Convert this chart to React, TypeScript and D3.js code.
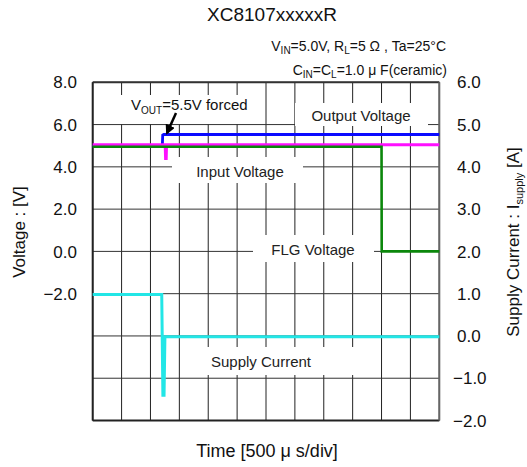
import React from "react";
import * as d3 from "d3";

// time in microseconds, values in V (voltages) or A (current)
const outputVoltage: [number, number][] = [
  [0, 4.98], [1205, 4.98], [1212, 5.5], [1230, 5.53], [6000, 5.53],
];
const inputVoltage: [number, number][] = [
  [0, 5.04], [1255, 5.04], [1262, 4.4], [1272, 4.4], [1278, 5.04], [6000, 5.04],
];
const flgVoltage: [number, number][] = [
  [0, 4.95], [5000, 4.95], [5003, 0.0], [6000, 0.0],
];
const supplyCurrent: [number, number][] = [
  [0, 0.98], [1195, 0.98], [1215, -1.4], [1235, -1.4], [1250, -0.02], [6000, -0.02],
];

const timeGrid = d3.range(0, 6001, 500);
const voltGrid = d3.range(-8, 9, 2);
const leftTickLabels = [8, 6, 4, 2, 0, -2];
const rightTickLabels = [6, 5, 4, 3, 2, 1, 0, -1, -2];

const FONT = "'Liberation Sans', Arial, sans-serif";

export default function App() {
  const L = 92.7, R = 439.3, T = 82.3, B = 420.5;
  const x = d3.scaleLinear().domain([0, 6000]).range([L, R]);
  const yL = d3.scaleLinear().domain([-8, 8]).range([B, T]);
  const yR = d3.scaleLinear().domain([-2, 6]).range([B, T]);
  const fmt = d3.format(".1f");
  const lineL = d3.line<[number, number]>().x((d) => x(d[0])).y((d) => yL(d[1]));
  const lineR = d3.line<[number, number]>().x((d) => x(d[0])).y((d) => yR(d[1]));

  const boxes = [
    { x0: 120, x1: 252, y0: 95, y1: 124 },
    { x0: 295, x1: 428, y0: 103, y1: 126 },
    { x0: 172, x1: 303, y0: 157, y1: 183 },
    { x0: 253, x1: 374, y0: 235, y1: 262 },
    { x0: 184, x1: 366, y0: 347, y1: 375 },
  ];

  return (
    <svg
      width={527}
      height={467}
      style={{ position: "absolute", left: 0, top: 0, background: "#fff" }}
      fontFamily={FONT}
    >
      <rect x={0} y={0} width={527} height={467} fill="#fff" />
      {/* grid */}
      {timeGrid.map((t) => (
        <line key={"v" + t} x1={x(t)} x2={x(t)} y1={T} y2={B} stroke="#222" strokeWidth={1} />
      ))}
      {voltGrid.map((v) => (
        <line key={"h" + v} x1={L} x2={R} y1={yL(v)} y2={yL(v)} stroke="#333" strokeWidth={1} />
      ))}
      {/* label boxes */}
      {boxes.map((b, i) => (
        <rect key={"b" + i} x={b.x0} y={b.y0} width={b.x1 - b.x0} height={b.y1 - b.y0} fill="#fff" />
      ))}
      {/* frame */}
      <line x1={L} x2={R} y1={T} y2={T} stroke="#333" strokeWidth={2} />
      <line x1={L} x2={R} y1={B} y2={B} stroke="#222" strokeWidth={2} />
      <line x1={L} x2={L} y1={T} y2={B} stroke="#222" strokeWidth={2} />
      <line x1={R} x2={R} y1={T} y2={B} stroke="#666" strokeWidth={2} />

      {/* traces */}
      <path d={lineR(supplyCurrent) || ""} fill="none" stroke="#22e6e6" strokeWidth={3} />
      <path d={lineL(outputVoltage) || ""} fill="none" stroke="#0a0aff" strokeWidth={2.8} />
      <path d={lineL(inputVoltage) || ""} fill="none" stroke="#ff10ff" strokeWidth={3} />
      <path d={lineL(flgVoltage) || ""} fill="none" stroke="#0b870b" strokeWidth={2.6} />

      {/* trace labels */}
      <text x={361} y={121} fontSize={15} textAnchor="middle" fill="#222">Output Voltage</text>
      <text x={240} y={177} fontSize={15} textAnchor="middle" fill="#222">Input Voltage</text>
      <text x={313} y={255} fontSize={15} textAnchor="middle" fill="#222">FLG Voltage</text>
      <text x={261} y={367} fontSize={15} textAnchor="middle" fill="#222">Supply Current</text>
      <text x={131} y={110} fontSize={15} fill="#111">
        V<tspan fontSize={10} dy={4}>OUT</tspan><tspan dy={-4}>=5.5V forced</tspan>
      </text>
      {/* arrow */}
      <defs>
        <marker id="ah" viewBox="0 0 10 10" refX={8} refY={5} markerWidth={4} markerHeight={4} orient="auto">
          <path d="M0,0 L10,5 L0,10 z" fill="#000" />
        </marker>
      </defs>
      <line x1={176} y1={113} x2={167} y2={133} stroke="#000" strokeWidth={2.5} markerEnd="url(#ah)" />

      {/* left axis labels */}
      {leftTickLabels.map((v) => (
        <text key={"l" + v} x={77} y={yL(v)} dy="0.36em" fontSize={17} textAnchor="end" fill="#111">
          {fmt(v)}
        </text>
      ))}
      {/* right axis labels */}
      {rightTickLabels.map((v) => (
        <text key={"r" + v} x={v < 0 ? 453 : 457} y={yR(v)} dy="0.36em" fontSize={17} textAnchor="start" fill="#111">
          {fmt(v)}
        </text>
      ))}

      {/* title */}
      <text x={272} y={21} fontSize={19} textAnchor="middle" fill="#111">XC8107xxxxxR</text>
      <text x={446} y={51} fontSize={14} textAnchor="end" fill="#111">
        V<tspan fontSize={10} dy={3}>IN</tspan><tspan dy={-3}>=5.0V, R</tspan>
        <tspan fontSize={10} dy={3}>L</tspan><tspan dy={-3}>=5 Ω , Ta=25°C</tspan>
      </text>
      <text x={447} y={75} fontSize={14} textAnchor="end" fill="#111">
        C<tspan fontSize={10} dy={3}>IN</tspan><tspan dy={-3}>=C</tspan>
        <tspan fontSize={10} dy={3}>L</tspan><tspan dy={-3}>=1.0 μ F(ceramic)</tspan>
      </text>

      {/* axis titles */}
      <text transform="translate(25,232) rotate(-90)" fontSize={17} textAnchor="middle" fill="#111">
        Voltage : [V]
      </text>
      <text transform="translate(519,242) rotate(-90)" fontSize={17} textAnchor="middle" fill="#111">
        Supply Current : I<tspan fontSize={11} dy={4}>supply</tspan><tspan dy={-4}> [A]</tspan>
      </text>
      <text x={267} y={457} fontSize={18} textAnchor="middle" fill="#111">Time [500 μ s/div]</text>
    </svg>
  );
}
